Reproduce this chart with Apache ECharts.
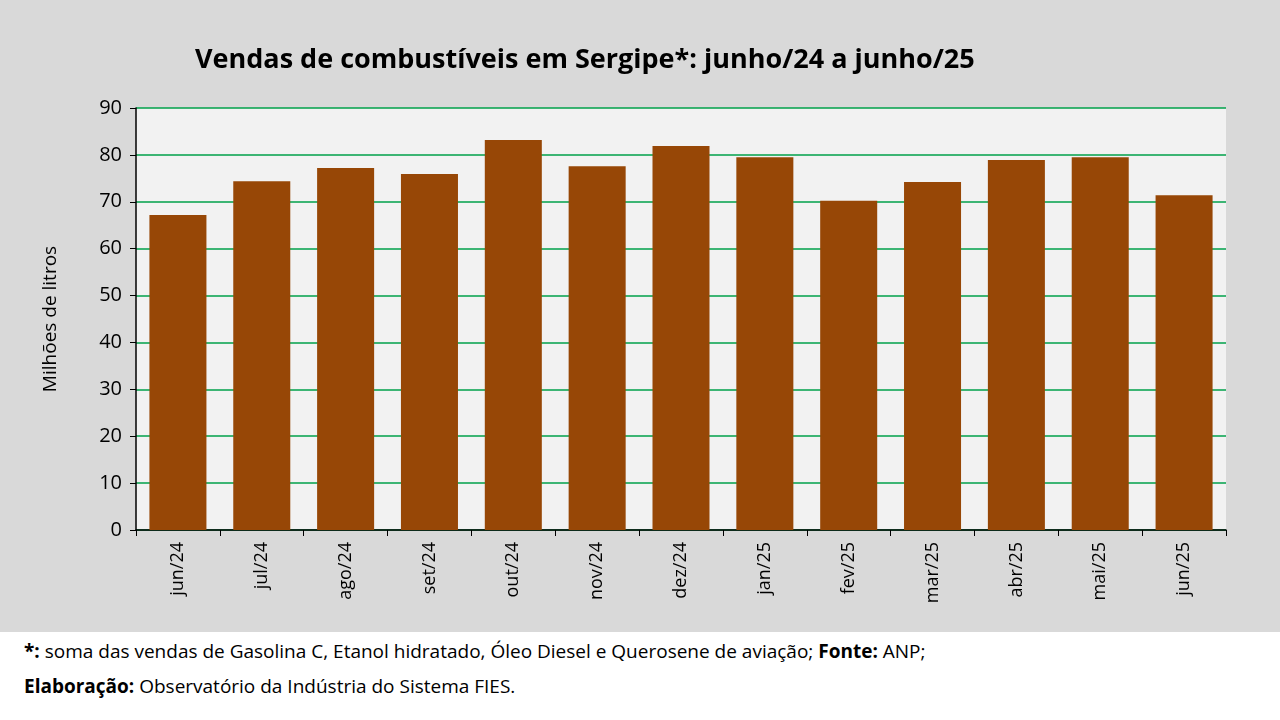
<!DOCTYPE html>
<html>
<head>
<meta charset="utf-8">
<script src="https://cdn.jsdelivr.net/npm/echarts@6/dist/echarts.min.js"></script>
<style>
  html, body { margin: 0; padding: 0; background: #fff; }
  #chart { width: 1280px; height: 632px; background: #d9d9d9; }
  #note { width: 1260px; padding: 2px 0 0 24px; font-family: "Open Sans", sans-serif; font-size: 19px; line-height: 35px; color: #000; white-space: nowrap; }
</style>
</head>
<body>
<div id="chart"></div>
<div id="note"><b>*:</b> soma das vendas de Gasolina C, Etanol hidratado, Óleo Diesel e Querosene de aviação; <b>Fonte:</b> ANP;<br><b>Elaboração:</b> Observatório da Indústria do Sistema FIES.</div>
<script>
const months = ['jun/24', 'jul/24', 'ago/24', 'set/24', 'out/24', 'nov/24', 'dez/24', 'jan/25', 'fev/25', 'mar/25', 'abr/25', 'mai/25', 'jun/25'];
const sales = [67.2, 74.4, 77.2, 75.9, 83.2, 77.6, 81.9, 79.5, 70.2, 74.2, 78.9, 79.5, 71.4];

const chart = echarts.init(document.getElementById('chart'));
chart.setOption({
  backgroundColor: '#d9d9d9',
  textStyle: { fontFamily: '"Open Sans", sans-serif' },
  title: {
    text: 'Vendas de combustíveis em Sergipe*: junho/24 a junho/25',
    left: 190, top: 42,
    textStyle: { fontSize: 27, fontWeight: 'bold', color: '#000' }
  },
  grid: { left: 136, right: 54, top: 108, bottom: 102, show: true, backgroundColor: '#f2f2f2', borderWidth: 0 },
  xAxis: {
    type: 'category', data: months,
    axisLine: { lineStyle: { color: '#000', width: 1.5 } },
    axisTick: { show: true, length: 6, lineStyle: { color: '#000' } },
    axisLabel: { rotate: 90, color: '#000', fontSize: 18, margin: 12 }
  },
  yAxis: {
    type: 'value', min: 0, max: 90, interval: 10,
    name: 'Milhões de litros', nameLocation: 'middle', nameGap: 76,
    nameTextStyle: { fontSize: 19, color: '#000' },
    axisLine: { show: true, lineStyle: { color: '#000', width: 1.5 } },
    axisTick: { show: true, length: 6, lineStyle: { color: '#000' } },
    axisLabel: { color: '#000', fontSize: 20, margin: 14 },
    splitLine: { lineStyle: { color: '#00a04a', width: 1.5 } }
  },
  series: [{
    type: 'bar', data: sales, barWidth: '68%',
    itemStyle: { color: '#974706' }
  }]
});
</script>
</body>
</html>
